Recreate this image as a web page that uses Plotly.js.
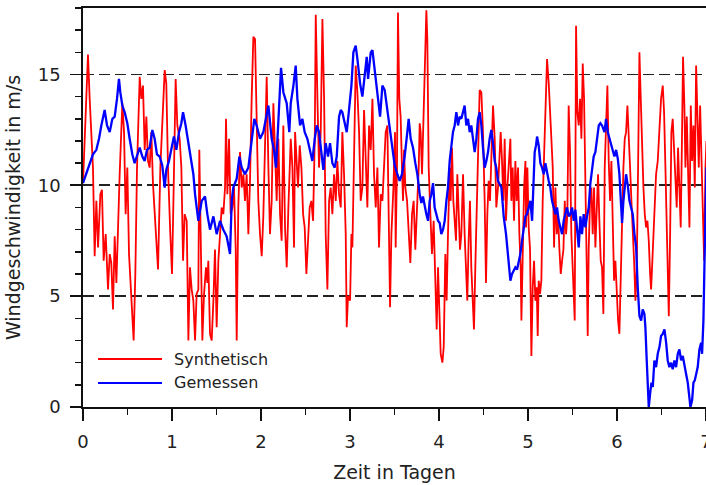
<!DOCTYPE html>
<html>
<head>
<meta charset="utf-8">
<script src="https://cdn.plot.ly/plotly-3.0.1.min.js"></script>
<style>html,body{margin:0;padding:0;background:#fff;}#chart{width:706px;height:485px;}</style>
</head>
<body>
<div id="chart"></div>
<script>
// Synthetisch (synthetic wind speed), time in days
const tSyn = [
0.000,0.030,0.056,0.075,0.094,0.112,0.131,0.150,0.169,0.195,0.213,0.232,0.255,0.281,0.300,0.318,0.337,0.356,0.375,0.393,
0.412,0.442,0.461,0.479,0.498,0.517,0.543,0.569,0.588,0.607,0.637,0.655,0.674,0.693,0.712,0.730,0.749,0.768,0.786,0.805,
0.824,0.843,0.869,0.899,0.918,0.936,0.955,0.981,1.000,1.019,1.041,1.060,1.086,1.105,1.124,1.142,
1.165,1.184,1.202,1.221,1.240,1.259,1.277,1.296,1.307,1.322,1.341,1.360,1.382,1.397,1.408,1.427,1.446,1.465,1.483,1.502,
1.521,1.540,1.558,1.577,1.596,1.607,1.622,1.641,1.659,1.678,1.697,1.716,1.727,1.745,1.764,1.783,1.802,1.820,1.839,1.858,
1.877,1.895,1.914,1.933,1.951,1.970,1.989,2.008,2.026,2.045,2.064,2.083,2.101,2.120,2.139,2.157,2.176,2.195,2.214,2.232,
2.251,2.270,2.289,2.307,2.326,
2.334,2.353,2.371,2.383,2.401,2.416,2.435,2.454,2.473,2.491,2.510,2.529,2.547,2.566,2.585,2.604,2.615,2.634,2.652,2.671,
2.690,2.709,2.727,2.746,2.765,2.783,2.802,2.821,2.840,2.858,2.877,2.896,2.914,2.933,2.952,2.963,2.978,3.001,3.016,3.027,
3.046,3.064,3.083,3.102,3.120,3.139,3.158,3.177,3.195,3.214,3.233,3.252,3.270,3.289,3.308,3.326,3.345,3.364,3.383,3.401,
3.420,3.439,3.450,3.465,3.488,
3.506,3.513,3.528,3.539,3.554,3.569,3.584,3.596,3.607,3.622,3.641,3.659,3.678,3.697,3.715,3.734,3.753,3.772,3.783,3.794,
3.809,3.824,3.839,3.858,3.869,3.884,3.903,3.921,3.940,3.959,3.974,3.989,4.004,4.019,4.038,4.053,4.071,4.086,4.101,4.120,
4.131,4.146,4.161,4.176,4.191,4.206,4.221,4.236,4.251,4.270,4.288,4.303,4.318,4.333,4.348,4.363,4.378,4.393,4.408,4.423,
4.438,4.457,4.476,4.494,4.513,4.528,4.543,4.558,4.573,4.588,4.607,4.626,4.644,4.663,
4.682,4.693,4.708,4.723,4.738,4.753,4.768,4.783,4.802,4.813,4.828,4.843,4.858,4.873,4.888,4.903,4.918,4.926,4.941,4.956,
4.971,4.978,4.993,5.008,5.023,5.038,5.053,5.068,5.083,5.098,5.109,5.120,5.135,5.150,5.165,5.180,5.195,5.214,5.233,5.251,
5.263,5.278,5.293,5.308,5.323,5.338,5.353,5.368,5.383,5.398,5.413,5.428,5.442,5.457,5.472,5.487,5.502,5.517,5.525,5.540,
5.555,5.570,5.585,5.600,5.615,5.630,5.645,5.660,5.671,5.682,5.697,5.712,5.727,5.742,5.757,5.772,5.787,5.802,5.817,5.832,
5.847,
5.862,5.877,5.892,5.907,5.922,5.937,5.952,5.967,5.982,5.997,6.012,6.027,6.042,6.057,6.072,6.087,6.102,6.117,6.132,6.147,
6.162,6.177,6.192,6.207,6.222,6.237,6.252,6.267,6.282,6.297,6.312,6.327,6.342,6.357,6.372,6.383,6.394,6.409,6.424,6.439,
6.458,6.477,6.495,6.514,6.529,6.544,6.559,6.574,6.582,6.597,6.611,6.626,6.641,6.656,6.671,6.686,6.701,6.716,6.731,6.742,
6.757,6.769,6.784,6.799,6.814,6.829,6.844,6.859,6.874,6.889,6.904,6.919,6.934,6.949,6.964,6.979,6.994,7.005
];
const vSyn = [
10.1,13.1,15.9,13.9,12.0,10.8,6.8,9.3,7.2,9.6,9.8,6.6,7.8,5.3,6.9,6.5,4.4,7.7,5.6,8.4,
10.5,13.7,12.4,8.7,10.8,6.9,4.8,3.0,6.0,10.8,14.9,13.9,14.5,11.6,13.1,11.1,10.8,12.4,10.1,8.6,
7.4,6.2,10.8,13.1,15.2,14.6,10.8,7.8,6.0,9.9,14.8,12.7,12.1,10.8,6.6,8.7,
8.4,3.0,6.3,5.3,4.8,3.0,5.1,5.3,11.6,7.8,3.0,5.1,6.3,5.6,6.6,3.3,3.0,4.8,7.1,3.6,
6.6,7.8,9.0,8.7,9.9,13.0,9.6,12.1,8.7,9.0,9.9,7.1,3.0,9.0,11.5,9.9,10.5,9.3,10.5,7.8,
10.3,13.9,16.7,16.6,12.4,9.3,7.8,6.8,8.6,12.4,14.9,10.8,7.8,9.3,13.7,11.6,9.3,12.1,8.7,7.5,
12.7,8.1,6.3,8.9,11.6,
12.1,10.8,7.2,12.4,11.3,9.9,11.8,10.8,8.7,8.1,6.0,7.5,9.0,9.3,8.4,12.1,17.7,13.9,10.8,12.4,
17.5,13.9,7.8,5.3,9.3,9.9,8.7,10.5,9.3,11.1,9.6,9.0,12.4,10.5,7.8,3.6,5.0,4.8,7.8,7.2,
12.4,15.4,14.2,12.4,9.3,9.9,13.4,10.8,9.0,12.7,11.6,13.9,10.5,9.0,10.8,7.2,9.6,9.3,10.8,12.4,
12.7,7.8,4.5,7.8,9.9,
12.4,7.2,10.8,17.8,13.9,13.1,10.8,9.3,11.6,9.9,9.3,7.8,6.5,8.7,9.3,7.1,9.0,10.8,12.8,12.4,
10.5,12.7,16.0,17.9,16.6,10.8,8.7,6.9,8.4,5.1,3.5,6.3,4.2,2.4,2.0,2.7,6.9,4.8,7.8,10.8,
9.3,11.7,9.3,8.1,7.5,10.5,8.7,7.1,7.8,10.5,7.8,6.0,4.8,7.5,9.3,6.3,5.1,3.5,6.3,8.7,
12.4,14.3,14.2,12.4,9.3,5.6,8.7,10.2,9.3,11.5,13.6,12.1,9.0,9.9,
11.5,12.4,11.1,9.3,12.1,8.4,9.9,11.1,12.1,9.3,10.8,8.4,11.1,9.3,10.8,7.8,6.3,3.9,7.8,9.9,
11.1,8.1,10.8,8.1,7.1,2.3,5.4,6.6,4.8,5.4,3.2,5.7,5.1,5.7,9.3,11.1,13.9,15.7,14.6,13.1,
12.4,10.8,7.2,9.9,7.8,8.7,7.1,6.0,6.6,7.1,9.3,7.8,8.7,13.6,11.6,7.8,6.3,4.8,3.9,17.2,
13.3,12.7,13.9,12.1,15.5,13.9,10.8,6.3,3.2,7.1,9.3,9.9,7.8,9.9,7.2,9.3,10.5,8.4,6.6,6.3,
4.2,
10.8,12.7,14.5,11.1,9.3,11.1,7.8,5.7,6.6,4.8,3.9,3.3,6.3,9.3,10.8,12.1,12.4,13.6,12.4,10.8,
9.3,8.1,6.6,4.8,6.3,10.8,16.0,13.9,11.6,9.9,8.7,8.1,8.4,7.5,6.0,5.3,6.3,7.8,9.3,10.5,
11.1,12.4,13.9,14.5,13.3,10.8,7.8,4.8,4.1,7.8,12.4,13.0,11.5,9.9,9.0,11.7,9.9,8.1,12.4,15.8,
13.6,10.8,13.1,9.9,8.1,13.6,11.1,12.7,9.9,15.4,13.0,10.8,13.6,11.1,8.7,6.6,10.8,12.0
];
// Gemessen (measured wind speed), time in days
const tGem = [
0.000,0.037,0.075,0.112,0.150,0.180,0.206,0.243,0.270,0.300,0.330,0.356,0.382,0.404,0.419,0.442,0.468,0.498,0.524,0.554,
0.580,0.607,0.637,0.667,0.693,0.719,0.749,0.779,0.805,0.831,0.861,0.891,0.918,0.936,0.966,0.996,1.022,1.049,1.079,1.105,
1.124,1.153,
1.165,1.202,1.240,1.259,1.296,1.334,1.371,1.397,1.427,1.465,1.502,1.540,1.577,1.614,1.652,1.671,1.689,1.727,1.757,1.783,
1.820,1.858,1.895,1.925,1.951,1.989,2.026,2.056,2.083,2.120,2.146,2.169,2.195,2.225,2.251,2.289,2.318,
2.334,2.364,2.390,2.409,2.439,2.465,2.491,2.521,2.551,2.577,2.604,2.626,2.652,2.679,2.701,2.727,2.753,2.776,2.802,2.828,
2.851,2.877,2.896,2.914,2.941,2.963,2.989,3.016,3.038,3.064,3.083,3.113,3.139,3.165,3.188,3.203,3.233,3.252,3.270,3.289,
3.315,3.338,3.364,3.390,3.420,3.450,3.476,
3.502,3.532,3.558,3.584,3.614,3.644,3.659,3.682,3.708,3.734,3.757,3.783,3.802,3.820,3.839,3.858,3.877,3.895,3.914,3.933,
3.951,3.970,3.989,4.008,4.026,4.045,4.064,4.083,4.101,4.120,4.139,4.157,4.176,4.195,4.214,4.232,4.251,4.270,4.288,4.307,
4.326,4.345,4.363,4.382,4.401,4.420,4.438,4.457,4.476,4.494,4.513,4.532,4.551,4.569,4.588,4.607,4.626,4.644,4.663,
4.701,4.727,4.753,4.776,4.802,4.821,4.840,4.858,4.877,4.896,4.914,4.933,4.952,4.971,4.989,5.008,5.027,5.046,5.064,5.075,
5.090,5.102,5.120,5.139,5.158,5.177,5.195,5.214,5.233,5.251,5.270,5.289,5.308,5.326,5.345,5.364,5.383,5.401,5.420,5.439,
5.457,5.476,5.495,5.514,5.532,5.551,5.570,5.589,5.607,5.626,5.645,5.663,5.682,5.701,5.720,5.738,5.757,5.776,5.795,5.813,
5.832,
5.859,5.877,5.896,5.915,5.934,5.952,5.971,5.990,6.009,6.027,6.046,6.057,6.072,6.087,6.102,6.121,6.140,6.158,6.177,6.196,
6.215,6.233,6.252,6.271,6.289,6.308,6.319,6.334,6.349,6.357,6.372,6.387,6.402,6.420,6.439,6.458,6.477,6.495,6.514,6.533,
6.552,6.570,6.589,6.608,6.626,6.645,6.664,6.683,6.701,6.720,6.739,6.758,6.776,6.795,6.814,6.825,6.844,6.859,6.874,6.889,
6.907,6.926,6.945,6.956,6.971,6.982,6.993,7.005
];
const vGem = [
10.1,10.5,11.0,11.4,11.6,12.1,12.7,13.4,12.7,12.4,13.0,13.1,13.9,14.8,14.2,13.6,13.3,12.8,12.1,11.4,
11.0,11.3,11.7,11.3,11.1,11.6,11.7,12.5,12.1,11.4,11.3,10.9,9.9,10.7,11.1,11.7,12.2,11.6,12.4,12.8,
13.3,12.7,
12.4,11.6,10.5,9.6,8.4,9.3,9.5,8.7,8.0,8.6,7.8,8.4,8.0,7.7,6.9,9.3,9.9,10.3,11.3,10.8,
10.5,10.8,11.9,13.0,12.7,12.1,12.4,13.1,13.6,12.1,11.6,10.8,12.7,15.3,14.2,13.7,12.4,
13.7,14.5,15.4,13.9,12.7,13.0,12.4,12.1,11.6,11.1,12.1,12.7,12.4,11.6,10.7,11.9,11.3,11.9,11.0,10.8,
11.3,13.1,13.4,13.3,12.7,12.4,13.4,14.5,16.0,16.3,15.7,14.6,14.0,14.9,15.8,14.8,16.0,16.1,15.4,14.6,
13.9,13.1,14.5,14.3,13.4,12.7,11.9,
10.9,10.5,10.2,10.5,11.3,12.4,13.0,12.1,11.7,11.0,10.5,9.6,9.2,9.5,9.0,8.7,8.4,9.3,9.6,10.1,
9.0,8.7,8.4,8.3,7.8,8.0,8.4,9.3,9.9,11.1,11.7,12.4,12.7,13.3,12.7,13.1,13.0,13.3,13.6,12.7,
13.0,12.4,12.7,12.1,11.5,12.1,13.0,13.3,12.7,11.7,10.8,11.1,11.5,12.1,12.5,11.9,11.1,10.8,10.2,
9.9,8.6,7.8,6.9,5.7,6.0,6.2,6.3,6.2,6.5,6.9,7.5,8.1,8.6,8.7,9.0,9.3,8.4,10.2,11.5,
11.8,12.2,11.8,11.0,10.8,10.5,11.0,10.5,10.2,9.9,9.3,9.0,8.7,9.0,8.4,8.1,7.8,8.4,8.7,9.0,
8.6,8.7,9.0,8.4,8.9,8.1,7.2,8.6,7.8,8.7,8.1,8.6,9.0,10.1,10.8,11.3,11.5,12.1,12.7,12.8,
12.7,
12.4,13.0,12.4,12.1,11.8,11.5,11.3,11.6,11.2,10.5,9.3,8.3,9.3,10.0,10.5,10.0,9.3,9.0,8.7,7.8,
7.2,5.4,4.1,3.9,4.4,4.2,3.6,2.1,0.5,0.0,0.6,1.1,0.9,2.1,1.8,2.4,2.7,3.2,3.3,3.5,
2.9,2.1,1.8,2.0,1.7,2.1,1.8,2.4,2.6,2.1,2.3,1.8,1.5,1.1,0.3,0.0,0.3,1.1,1.2,1.5,
1.8,2.6,2.9,2.4,3.9,6.3,9.3,10.8
];
const seriesNames = ['Synthetisch', 'Gemessen'];
const seriesColors = ['#ff0000', '#0000ff'];

const axisColor = '#111';
const traces = [
  {x: tSyn, y: vSyn, type: 'scatter', mode: 'lines', name: seriesNames[0],
   line: {color: seriesColors[0], width: 1.8}},
  {x: tGem, y: vGem, type: 'scatter', mode: 'lines', name: seriesNames[1],
   line: {color: seriesColors[1], width: 2.3}}
];

// Legend drawn in paper coordinates (long line samples as in the original)
const legY = [0.1203, 0.0602];
const shapes = seriesNames.map((n, i) => ({
  type: 'line', xref: 'paper', yref: 'paper', x0: 0.0241, x1: 0.1268, y0: legY[i], y1: legY[i],
  line: {color: seriesColors[i], width: 2}, layer: 'above'
}));
const annotations = seriesNames.map((n, i) => ({
  text: n, xref: 'paper', yref: 'paper', x: 0.1429, y: legY[i], xanchor: 'left', yanchor: 'middle',
  showarrow: false, font: {size: 16, color: '#222'}
}));

const layout = {
  width: 706, height: 485,
  margin: {l: 83, r: 0, t: 8, b: 78},
  paper_bgcolor: '#ffffff', plot_bgcolor: '#ffffff',
  font: {family: 'DejaVu Sans', color: '#222'},
  showlegend: false,
  shapes: shapes,
  annotations: annotations,
  xaxis: {
    range: [0, 7], tick0: 0, dtick: 1, ticks: 'outside', ticklen: 12, tickwidth: 1.8, tickcolor: axisColor,
    showline: true, linewidth: 1.8, linecolor: axisColor, mirror: true,
    showgrid: false, zeroline: false, tickfont: {size: 18}, ticklabelstandoff: 6, ticklabeloverflow: 'allow',
    minor: {dtick: 0.5, tick0: 0, ticks: 'outside', ticklen: 6, tickwidth: 1.5, tickcolor: axisColor, showgrid: false},
    title: {text: 'Zeit in Tagen', font: {size: 19}, standoff: 14}, automargin: false
  },
  yaxis: {
    range: [0, 18], tick0: 0, dtick: 5, ticks: 'outside', ticklen: 11, tickwidth: 1.8, tickcolor: axisColor,
    showline: true, linewidth: 1.8, linecolor: axisColor, mirror: false,
    showgrid: true, gridcolor: '#222', gridwidth: 1.7, griddash: '11px,5px',
    zeroline: false, tickfont: {size: 18}, ticklabelstandoff: 6,
    minor: {dtick: 1, tick0: 0, ticks: 'outside', ticklen: 6, tickwidth: 1.5, tickcolor: axisColor, showgrid: false},
    title: {text: 'Windgeschwindigkeit in m/s', font: {size: 19}, standoff: 12}, automargin: false
  }
};
Plotly.newPlot('chart', traces, layout, {displayModeBar: false, staticPlot: true});
</script>
</body>
</html>
